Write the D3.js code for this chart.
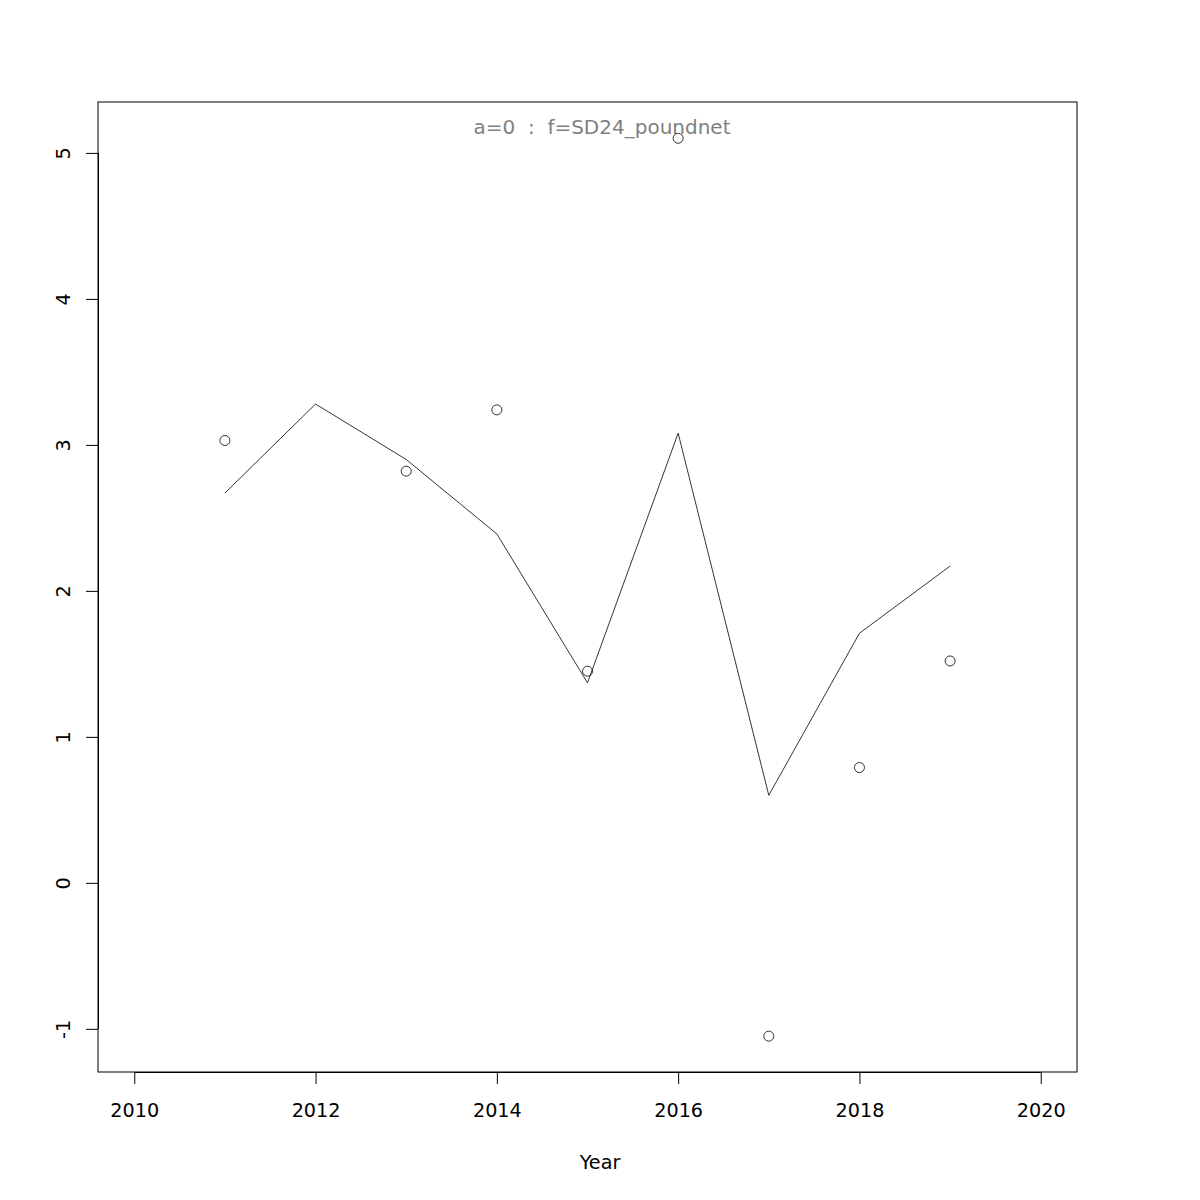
<!DOCTYPE html>
<html><head><meta charset="utf-8">
<script src="https://cdn.jsdelivr.net/npm/d3@7"></script>
<style>body{margin:0;background:#fff}svg{display:block}text{font-family:"DejaVu Sans",sans-serif}</style>
</head><body>
<script>
const years = [2011, 2012, 2013, 2014, 2015, 2016, 2017, 2018, 2019];
const observed = [3.03, null, 2.82, 3.24, 1.45, 5.10, -1.05, 0.79, 1.52];
const fitted = [2.67, 3.28, 2.90, 2.39, 1.37, 3.08, 0.60, 1.71, 2.17];
const xTicks = [2010, 2012, 2014, 2016, 2018, 2020];
const yTicks = [-1, 0, 1, 2, 3, 4, 5];
const title = "a=0  :  f=SD24_poundnet";
const xLabel = "Year";

const W = 1200, H = 1200;
const L = 98, R = 1077, T = 102, B = 1072;
const FS = 19.2;
const svg = d3.select("body").append("svg").attr("width", W).attr("height", H);

const x = d3.scaleLinear().domain([2009.6, 2020.4]).range([L, R]);
const y = d3.scaleLinear().domain([-1.2956, 5.3488]).range([B, T]);

// box
svg.append("rect").attr("x", L).attr("y", T).attr("width", R - L).attr("height", B - T)
  .attr("fill", "none").attr("stroke", "#000").attr("stroke-width", 1);

// x axis
const xa = svg.append("g").attr("transform", `translate(0,${B})`)
  .call(d3.axisBottom(x).tickValues(xTicks).tickFormat(d => String(d)).tickSize(12));
xa.select(".domain").attr("d", `M${x(2010)},0.5H${x(2020)}`).attr("stroke", "#000");
xa.selectAll("text").attr("font-size", FS).attr("fill", "#000").style("font-family", "DejaVu Sans")
  .attr("y", 45).attr("dy", null);

// y axis
const ya = svg.append("g").attr("transform", `translate(${L},0)`)
  .call(d3.axisLeft(y).tickValues(yTicks).tickFormat(d => String(d)).tickSize(12));
ya.select(".domain").attr("d", `M0.5,${y(-1)}V${y(5)}`).attr("stroke", "#000");
ya.selectAll("text").attr("font-size", FS).attr("fill", "#000").style("font-family", "DejaVu Sans")
  .attr("text-anchor", "middle").attr("dy", null).attr("x", null)
  .attr("transform", "translate(-28,0) rotate(-90)");

// title
svg.append("text").attr("x", 602).attr("y", 134).attr("text-anchor", "middle")
  .attr("font-size", 20).attr("fill", "#808080").attr("xml:space", "preserve")
  .style("white-space", "pre").text(title);

// x label
svg.append("text").attr("x", 600).attr("y", 1169).attr("text-anchor", "middle")
  .attr("font-size", FS).attr("fill", "#000").text(xLabel);

// line
const line = d3.line().x((d, i) => x(years[i])).y(d => y(d));
svg.append("path").datum(fitted).attr("d", line).attr("fill", "none")
  .attr("stroke", "#000").attr("stroke-width", 0.8);

// points
svg.selectAll("circle.pt").data(years.map((yr, i) => ({yr, v: observed[i]})).filter(d => d.v !== null))
  .enter().append("circle").attr("class", "pt")
  .attr("cx", d => x(d.yr)).attr("cy", d => y(d.v)).attr("r", 5)
  .attr("fill", "none").attr("stroke", "#000").attr("stroke-width", 0.8);
</script>
</body></html>
